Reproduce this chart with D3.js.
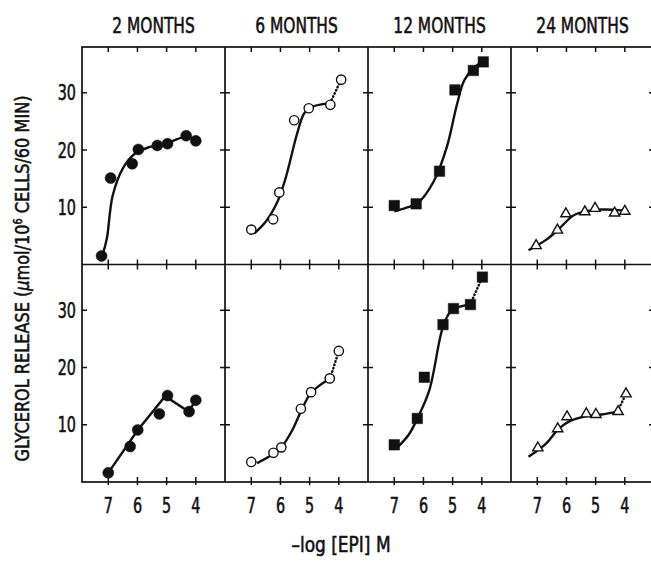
<!DOCTYPE html>
<html>
<head>
<meta charset="utf-8">
<script src="https://d3js.org/d3.v7.min.js"></script>
<style>
    body { margin: 0; background: #ffffff; }
    text {
        font-family: "Liberation Sans Narrow", "DejaVu Sans Condensed", sans-serif;
        fill: #111111;
        stroke: #111111;
        stroke-width: 0.55px;
    }
    .frame { stroke: #111111; stroke-width: 1.7px; fill: none; }
    .tick { stroke: #111111; stroke-width: 1.5px; }
    .curve { stroke: #111111; stroke-width: 2.4px; fill: none; }
    .dotted { stroke: #111111; stroke-width: 2.5px; fill: none; stroke-dasharray: 0.5 3; stroke-linecap: round; }
</style>
</head>
<body>
<div id="container"></div>
<script>
    // panel titles, ticks
    const ages = ["2 MONTHS", "6 MONTHS", "12 MONTHS", "24 MONTHS"];
    const xTicks = [7, 6, 5, 4];
    const yTicks = [10, 20, 30];

    // measured points  [ -log EPI , glycerol ]
    // top row
    const pts2mTop  = [[7.23,1.5],[6.92,15.1],[6.18,17.6],[5.97,20.1],[5.32,20.8],[4.97,21.1],[4.33,22.5],[4.0,21.6]];
    const pts6mTop  = [[7.0,6.1],[6.25,7.9],[6.04,12.6],[5.53,25.2],[5.03,27.3],[4.29,27.9],[3.92,32.3]];
    const pts12mTop = [[7.0,10.3],[6.25,10.6],[5.45,16.3],[4.92,30.5],[4.29,33.9],[3.95,35.4]];
    const pts24mTop = [[7.04,3.3],[6.31,6.0],[6.02,8.85],[5.37,9.2],[5.02,9.8],[4.35,9.0],[4.0,9.3]];
    // bottom row
    const pts2mBot  = [[7.0,1.6],[6.25,6.2],[5.99,9.1],[5.25,11.9],[4.97,15.1],[4.23,12.3],[4.0,14.3]];
    const pts6mBot  = [[7.0,3.5],[6.24,5.1],[5.97,6.05],[5.3,12.8],[4.95,15.7],[4.31,18.1],[4.0,22.9]];
    const pts12mBot = [[7.0,6.5],[6.21,11.1],[5.97,18.3],[5.33,27.5],[4.97,30.3],[4.39,31.0],[3.98,35.8]];
    const pts24mBot = [[6.98,5.95],[6.30,9.3],[5.98,11.4],[5.32,11.9],[4.99,11.8],[4.23,12.3],[3.96,15.4]];

    // drawn (fitted) curves
    const fit2mTop  = [[7.2,1.6],[7.05,4.5],[6.85,12.0],[6.5,16.8],[6.1,19.3],[5.6,20.5],[5.0,21.2],[4.35,22.3],[4.0,21.7]];
    const fit6mTop  = [[6.9,5.4],[6.5,7.5],[6.1,11.0],[5.8,15.5],[5.45,22.5],[5.2,26.3],[5.0,27.4],[4.3,28.2]];
    const fit12mTop = [[7.0,9.3],[6.6,9.9],[6.2,10.7],[5.65,14.5],[5.2,20.5],[4.85,28.0],[4.6,32.2],[4.25,34.5],[3.95,35.5]];
    const fit24mTop = [[7.3,2.5],[6.7,4.3],[6.3,6.0],[5.75,8.6],[5.3,9.3],[4.8,9.6],[4.2,9.5],[3.95,9.3]];
    const fit2mBot  = [[7.0,1.6],[6.0,9.0],[5.05,15.0],[4.25,12.3],[4.0,14.3]];
    const fit6mBot  = [[6.8,3.3],[6.25,4.9],[5.95,6.2],[5.6,9.0],[5.3,12.3],[4.95,15.6],[4.3,18.1]];
    const fit12mBot = [[6.9,6.0],[6.5,8.3],[6.2,11.2],[5.8,16.0],[5.35,26.8],[5.1,29.6],[4.9,30.4],[4.4,31.0]];
    const fit24mBot = [[7.3,4.4],[6.7,6.7],[6.3,9.1],[5.9,10.6],[5.3,11.5],[4.8,11.8],[4.25,12.3]];

    // dotted extensions
    const dot6mTop  = [[4.3,28.2],[3.92,32.3]];
    const dot6mBot  = [[4.3,18.1],[4.0,22.9]];
    const dot12mBot = [[4.4,31.0],[3.98,35.8]];
    const dot24mBot = [[4.25,12.3],[3.96,15.4]];

    const markers = ["filledCircle", "openCircle", "filledSquare", "openTriangle"];

    const panels = [
        {row: 0, col: 0, pts: pts2mTop,  fit: fit2mTop,  dot: null,      linear: false},
        {row: 0, col: 1, pts: pts6mTop,  fit: fit6mTop,  dot: dot6mTop,  linear: false},
        {row: 0, col: 2, pts: pts12mTop, fit: fit12mTop, dot: null,      linear: false},
        {row: 0, col: 3, pts: pts24mTop, fit: fit24mTop, dot: null,      linear: false},
        {row: 1, col: 0, pts: pts2mBot,  fit: fit2mBot,  dot: null,      linear: true},
        {row: 1, col: 1, pts: pts6mBot,  fit: fit6mBot,  dot: dot6mBot,  linear: false},
        {row: 1, col: 2, pts: pts12mBot, fit: fit12mBot, dot: dot12mBot, linear: false},
        {row: 1, col: 3, pts: pts24mBot, fit: fit24mBot, dot: dot24mBot, linear: false}
    ];

    // layout
    const W = 651, H = 562;
    const plotL = 82, plotT = 47, panelW = 143, rowH = 217.5;
    const plotR = plotL + 4 * panelW;
    const plotB = plotT + 2 * rowH;

    const svg = d3.select("#container")
        .append("svg")
        .attr("width", W)
        .attr("height", H);

    const g = svg.append("g");

    function xScale(col) {
        return d3.scaleLinear().domain([7.9, 3.0]).range([plotL + col * panelW, plotL + (col + 1) * panelW]);
    }
    function yScale(row) {
        return d3.scaleLinear().domain([0, 38]).range([plotT + (row + 1) * rowH, plotT + row * rowH]);
    }

    // narrow text: the figure uses a condensed face, so squeeze horizontally
    function narrowText(x, y, str, size, anchor, sx) {
        return g.append("g")
            .attr("transform", "translate(" + x + "," + y + ") scale(" + sx + ",1)")
            .append("text")
            .attr("text-anchor", anchor)
            .style("font-size", size + "px")
            .text(str);
    }

    // ticks (inward on every panel edge)
    const tl = 5;
    for (let row = 0; row < 2; row++) {
        const y = yScale(row);
        for (let col = 0; col < 4; col++) {
            const x = xScale(col);
            yTicks.forEach(t => {
                g.append("line").attr("class", "tick")
                    .attr("x1", x.range()[0]).attr("x2", x.range()[0] + tl)
                    .attr("y1", y(t)).attr("y2", y(t));
                g.append("line").attr("class", "tick")
                    .attr("x1", x.range()[1] - tl).attr("x2", x.range()[1])
                    .attr("y1", y(t)).attr("y2", y(t));
            });
            xTicks.forEach(t => {
                g.append("line").attr("class", "tick")
                    .attr("x1", x(t)).attr("x2", x(t))
                    .attr("y1", y.range()[1]).attr("y2", y.range()[1] + tl);
                g.append("line").attr("class", "tick")
                    .attr("x1", x(t)).attr("x2", x(t))
                    .attr("y1", y.range()[0] - tl).attr("y2", y.range()[0] + (row === 1 ? 3 : 0));
            });
        }
    }

    // frame
    g.append("rect").attr("class", "frame")
        .attr("x", plotL).attr("y", plotT)
        .attr("width", plotR - plotL).attr("height", plotB - plotT);
    g.append("line").attr("class", "frame")
        .attr("x1", plotL).attr("x2", plotR).attr("y1", plotT + rowH).attr("y2", plotT + rowH);
    for (let col = 1; col < 4; col++) {
        g.append("line").attr("class", "frame")
            .attr("x1", plotL + col * panelW).attr("x2", plotL + col * panelW)
            .attr("y1", plotT).attr("y2", plotB);
    }

    // titles
    ages.forEach((a, i) => {
        narrowText(plotL + (i + 0.5) * panelW, 33, a, 22, "middle", 0.78);
    });

    // y tick labels
    for (let row = 0; row < 2; row++) {
        const y = yScale(row);
        yTicks.forEach(t => narrowText(76, y(t) + 7.5, t, 21, "end", 0.76));
    }

    // x tick labels
    for (let col = 0; col < 4; col++) {
        const x = xScale(col);
        xTicks.forEach(t => narrowText(x(t), 513, t, 21, "middle", 0.76));
    }

    // axis titles
    narrowText(341, 552, "\u2013log [EPI] M", 21, "middle", 0.9);

    const yl = g.append("text")
        .attr("transform", "translate(29," + (plotT + rowH + 14) + ") rotate(-90)")
        .attr("text-anchor", "middle")
        .attr("textLength", 366)
        .attr("lengthAdjust", "spacingAndGlyphs")
        .style("font-size", "20px");
    yl.append("tspan").text("GLYCEROL RELEASE (");
    yl.append("tspan").style("font-style", "italic").text("\u03bc");
    yl.append("tspan").text("mol/10");
    yl.append("tspan").attr("dy", -7).style("font-size", "12px").text("6");
    yl.append("tspan").attr("dy", 7).text(" CELLS/60 MIN)");

    // series
    panels.forEach(p => {
        const x = xScale(p.col), y = yScale(p.row);
        const line = d3.line()
            .x(d => x(d[0])).y(d => y(d[1]))
            .curve(p.linear ? d3.curveLinear : d3.curveCatmullRom.alpha(0.5));

        g.append("path").attr("class", "curve").attr("d", line(p.fit));
        if (p.dot) {
            g.append("path").attr("class", "dotted").attr("d", d3.line().x(d => x(d[0])).y(d => y(d[1]))(p.dot));
        }

        const m = markers[p.col];
        const sym = m === "filledCircle" || m === "openCircle" ? d3.symbolCircle
            : m === "filledSquare" ? d3.symbolSquare : d3.symbolTriangle;
        const size = m === "filledCircle" ? 95 : m === "openCircle" ? 68 : m === "filledSquare" ? 110 : 46;
        const filled = m.startsWith("filled");

        g.selectAll(null)
            .data(p.pts)
            .enter()
            .append("path")
            .attr("d", d3.symbol().type(sym).size(size))
            .attr("transform", d => "translate(" + x(d[0]) + "," + y(d[1]) + ")")
            .attr("fill", filled ? "#111111" : "#ffffff")
            .attr("stroke", "#111111")
            .attr("stroke-width", filled ? 0.5 : 1.4);
    });
</script>
</body>
</html>
